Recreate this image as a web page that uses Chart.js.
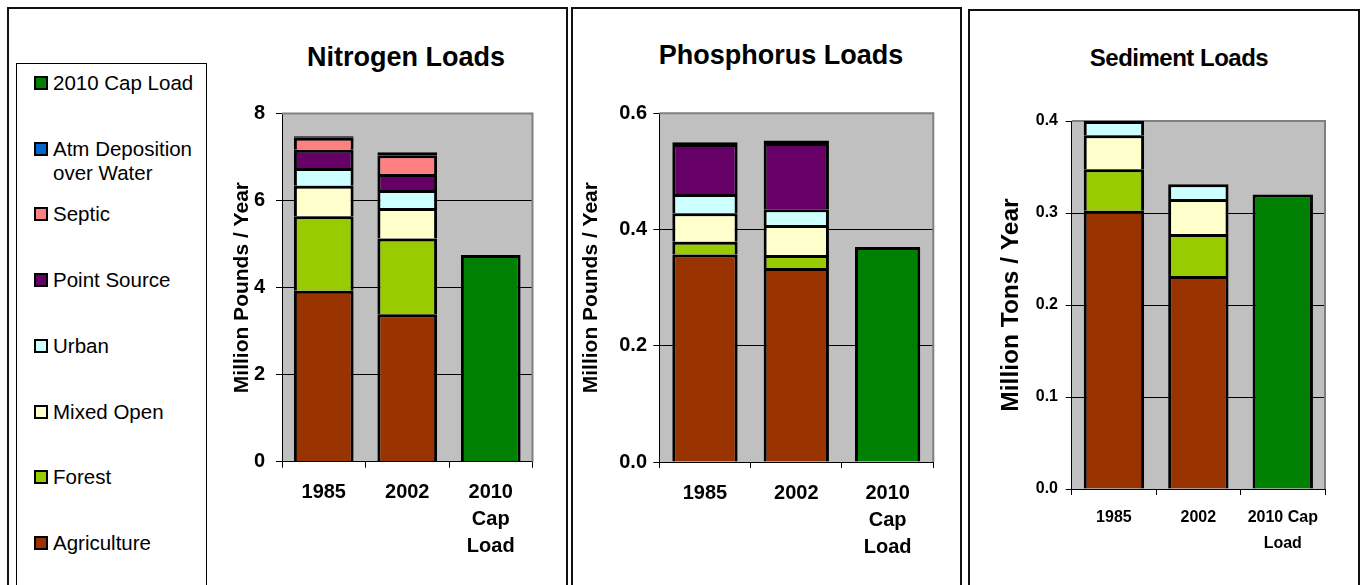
<!DOCTYPE html>
<html>
<head>
<meta charset="utf-8">
<script src="https://cdn.jsdelivr.net/npm/chart.js@4.4.1/dist/chart.umd.min.js"></script>
<style>
  body { margin: 0; width: 1361px; height: 585px; overflow: hidden; background: #fff; position: relative;
         font-family: Arial, "Liberation Sans", sans-serif; }
  .panel { position: absolute; border: 2px solid #111; box-sizing: border-box; }
  .title { position: absolute; font-weight: bold; line-height: 1; white-space: nowrap; transform: translateX(-50%); color: #000; }
  canvas { position: absolute; }
  #legend { position: absolute; left: 16px; top: 63px; width: 191px; height: 560px; border: 1px solid #000; box-sizing: border-box; }
  .item { position: absolute; left: 17px; width: 172px; font-size: 20.5px; line-height: 24px; padding-left: 19px; box-sizing: border-box; color: #000; }
  .item .sw { position: absolute; left: 0; top: 5px; width: 14px; height: 14px; border: 2px solid #000; box-sizing: border-box; }
</style>
</head>
<body>
<div class="panel" style="left:7px;top:7px;width:561px;height:600px"></div>
<div class="panel" style="left:571px;top:7px;width:391px;height:600px"></div>
<div class="panel" style="left:968px;top:9px;width:392px;height:600px"></div>

<div id="legend"></div>

<div class="title" style="left:406px;top:44px;font-size:27px">Nitrogen Loads</div>
<div class="title" style="left:781px;top:42px;font-size:27px">Phosphorus Loads</div>
<div class="title" style="left:1179px;top:46px;font-size:24px;letter-spacing:-0.5px">Sediment Loads</div>

<canvas id="nitrogenChart" width="357" height="577" style="left:209px;top:8px"></canvas>
<canvas id="phosphorusChart" width="389" height="577" style="left:572px;top:8px"></canvas>
<canvas id="sedimentChart" width="389" height="575" style="left:969px;top:10px"></canvas>

<script>
const categories = ['1985', '2002', ['2010', 'Cap', 'Load']];
const sedimentCategories = ['1985', '2002', ['2010 Cap', 'Load']];
const seriesNames = ['Agriculture', 'Forest', 'Mixed Open', 'Urban', 'Point Source', 'Septic', 'Atm Deposition over Water', '2010 Cap Load'];
const seriesColors = ['#993300', '#99CC00', '#FFFFCC', '#CCFFFF', '#660066', '#FF8080', '#0066CC', '#008000'];

// loads per source, bottom to top: Agriculture, Forest, Mixed Open, Urban, Point Source, Septic, Atm Deposition
const nitrogen1985 = [3.93, 1.71, 0.70, 0.41, 0.42, 0.27, 0.04];
const nitrogen2002 = [3.39, 1.74, 0.70, 0.41, 0.37, 0.43, 0.07];
const nitrogenCap = 4.75;
const phosphorus1985 = [0.357, 0.022, 0.049, 0.033, 0.086, 0, 0.003];
const phosphorus2002 = [0.334, 0.022, 0.052, 0.027, 0.114, 0, 0.004];
const phosphorusCap = 0.370;
const sediment1985 = [0.3025, 0.045, 0.037, 0.0155, 0, 0, 0];
const sediment2002 = [0.2315, 0.0457, 0.038, 0.016, 0, 0, 0];
const sedimentCap = 0.32;

const nitrogenTicks = [0, 2, 4, 6, 8];
const phosphorusTicks = [0, 0.2, 0.4, 0.6];
const sedimentTicks = [0, 0.1, 0.2, 0.3, 0.4];

Chart.defaults.font.family = 'Arial, "Liberation Sans", sans-serif';
Chart.defaults.color = '#000';

// legend, top to bottom is the reverse of the stack
const legend = document.getElementById('legend');
seriesNames.slice().reverse().forEach((name, i) => {
  const el = document.createElement('div');
  el.className = 'item';
  el.style.top = (7 + 65.7 * i) + 'px';
  el.innerHTML = '<span class="sw" style="background:' + seriesColors[seriesNames.length - 1 - i] + '"></span>' + name;
  legend.appendChild(el);
});

const plotArea = {
  id: 'plotArea',
  beforeDraw(chart) {
    const { ctx, chartArea: a } = chart;
    ctx.save();
    ctx.fillStyle = '#C0C0C0';
    ctx.fillRect(a.left, a.top, a.right - a.left, a.bottom - a.top);
    ctx.restore();
  },
  beforeDatasetsDraw(chart) {
    const { ctx, chartArea: a } = chart;
    ctx.save();
    ctx.strokeStyle = '#808080';
    ctx.lineWidth = 2;
    ctx.beginPath();
    ctx.moveTo(a.left, a.top);
    ctx.lineTo(a.right, a.top);
    ctx.lineTo(a.right, a.bottom);
    ctx.stroke();
    ctx.restore();
  }
};

function buildDatasets(row1985, row2002, cap) {
  return seriesNames.map((name, i) => ({
    label: name,
    data: i < 7 ? [row1985[i], row2002[i], null] : [null, null, cap],
    backgroundColor: seriesColors[i],
    // the thin deposition sliver reads as a black band on top of the stack
    borderSkipped: i === 6 ? false : 'start'
  }));
}

function makeChart(id, labels, datasets, ticks, decimals, yTitle, f) {
  new Chart(document.getElementById(id), {
    type: 'bar',
    data: { labels: labels, datasets: datasets },
    options: {
      responsive: false,
      animation: false,
      layout: { padding: { top: f.padTop, right: f.padRight, left: 0, bottom: 0 } },
      datasets: { bar: { borderColor: '#000', borderWidth: 3, barPercentage: 0.715, categoryPercentage: 1 } },
      plugins: { legend: { display: false }, tooltip: { enabled: false } },
      scales: {
        x: {
          stacked: true,
          afterFit: s => { s.height = f.xHeight; },
          grid: { drawOnChartArea: false, color: '#000', tickLength: 6 },
          border: { color: '#000' },
          ticks: { color: '#000', padding: f.xPad, maxRotation: 0, autoSkip: false,
                   font: { size: f.xFont, weight: 'bold', lineHeight: f.xLine } }
        },
        y: {
          stacked: true,
          min: ticks[0],
          max: ticks[ticks.length - 1],
          afterFit: s => { s.width = f.yWidth; },
          afterBuildTicks: s => { s.ticks = ticks.map(v => ({ value: v })); },
          grid: { color: '#000', tickLength: 6 },
          border: { color: '#000' },
          ticks: { color: '#000', padding: f.yPad, font: { size: f.tickFont, weight: 'bold' },
                   callback: v => v.toFixed(decimals) },
          title: { display: true, text: yTitle, color: '#000',
                   font: { size: f.titleFont, weight: 'bold' }, padding: { top: f.titlePad, bottom: 0 } }
        }
      }
    },
    plugins: [plotArea]
  });
}

makeChart('nitrogenChart', categories, buildDatasets(nitrogen1985, nitrogen2002, nitrogenCap),
  nitrogenTicks, 0, 'Million Pounds / Year',
  { padTop: 105.5, padRight: 33.5, xHeight: 123.3, yWidth: 73, yPad: 11, titlePad: 20.4,
    tickFont: 20, titleFont: 21, xFont: 20, xLine: 1.35, xPad: 11.3 });

makeChart('phosphorusChart', categories, buildDatasets(phosphorus1985, phosphorus2002, phosphorusCap),
  phosphorusTicks, 1, 'Million Pounds / Year',
  { padTop: 105.3, padRight: 27.7, xHeight: 123, yWidth: 87.3, yPad: 6.3, titlePad: 7.1,
    tickFont: 20, titleFont: 21, xFont: 20, xLine: 1.35, xPad: 11.5 });

makeChart('sedimentChart', sedimentCategories, buildDatasets(sediment1985, sediment2002, sedimentCap),
  sedimentTicks, 1, 'Million Tons / Year',
  { padTop: 111, padRight: 33, xHeight: 96, yWidth: 102.7, yPad: 7.7, titlePad: 28,
    tickFont: 16, titleFont: 24.5, xFont: 16, xLine: 1.625, xPad: 9.3 });
</script>
</body>
</html>
